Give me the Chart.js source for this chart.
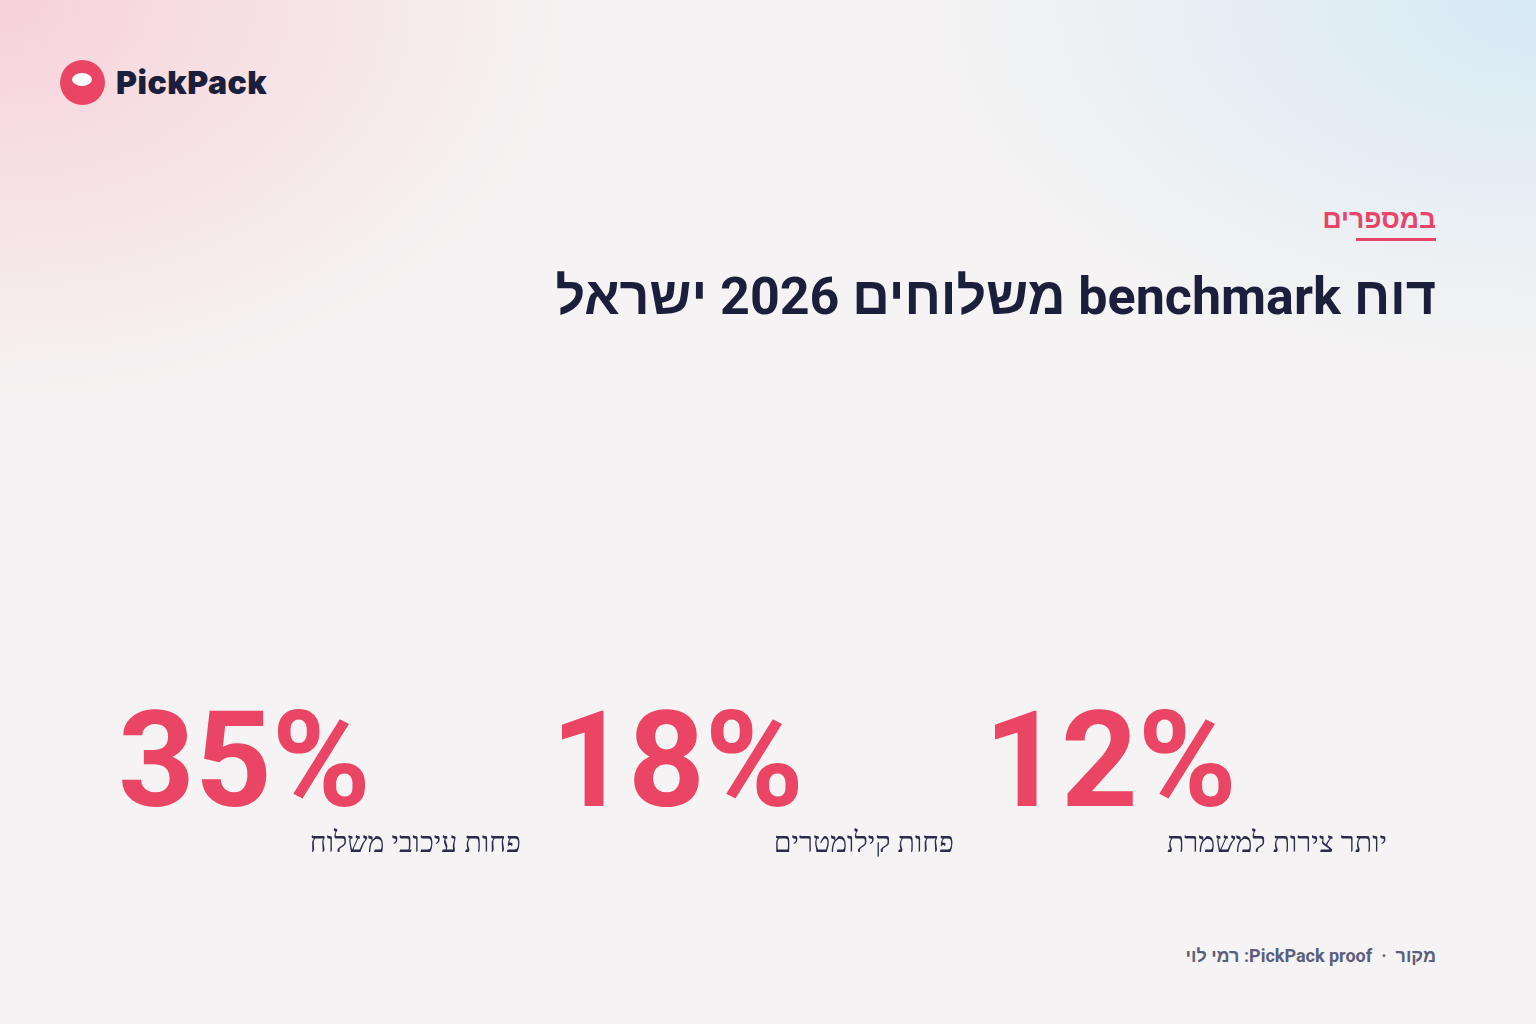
<!DOCTYPE html>
<html lang="he"><head><meta charset="utf-8">
<script src="https://cdn.jsdelivr.net/npm/chart.js@4"></script>
<style>
html,body{margin:0;padding:0;width:1536px;height:1024px;overflow:hidden;font-family:Roboto,"Noto Sans",sans-serif}
body{background:
 radial-gradient(ellipse 800px 560px at 0% 0%, rgba(247,204,213,.85), rgba(247,204,213,0) 72%),
 radial-gradient(ellipse 850px 520px at 100% 0%, rgba(212,233,245,.9), rgba(212,233,245,0) 72%),
 #f5f3f3;position:relative}
.logo{position:absolute;left:60px;top:60px;display:flex;align-items:center}
.dot{width:45px;height:45px;border-radius:50%;background:#ea4565;position:relative}
.dot:after{content:"";position:absolute;left:12px;top:13px;width:20px;height:13px;border-radius:50%;background:#fff}
.brand{margin-left:11px;font-family:Inter,Roboto,sans-serif;font-weight:900;font-size:32px;color:#1c1f3b;letter-spacing:.5px}
.kicker{position:absolute;right:100px;top:203px;direction:rtl;font-weight:700;font-size:26.5px;color:#e8446a}
.uline{position:absolute;left:1356px;width:80px;top:238px;height:3px;background:#e8446a}
.title{position:absolute;right:100px;top:266px;direction:rtl;font-weight:700;font-size:52px;color:#1c1f3b;white-space:nowrap}
.foot{position:absolute;right:100px;top:945px;direction:rtl;font-weight:700;font-size:18px;color:#5a5f7d}
#wrap{position:absolute;left:104px;top:660px;width:1299px;height:220px}
</style></head><body>
<div class="logo"><div class="dot"></div><div class="brand">PickPack</div></div>
<div class="kicker">במספרים</div><div class="uline"></div>
<div class="title">דוח benchmark משלוחים 2026 ישראל</div>
<div id="wrap"><canvas id="c"></canvas></div>
<div class="foot">מקור &nbsp;·&nbsp; PickPack proof: רמי לוי</div>
<script>
const categories = ["פחות עיכובי משלוח","פחות קילומטרים","יותר צירות למשמרת"];
const values = [35,18,12];
const tickLabels = values.map(v=>v+"%");
const kpiPlugin={id:'kpi',afterDraw(chart){
 const ctx=chart.ctx,x=chart.scales.x;
 const half=(x.getPixelForValue(1)-x.getPixelForValue(0))/2;
 ctx.save();
 values.forEach((v,i)=>{
  const cx=x.getPixelForValue(i);
  ctx.fillStyle='#ea4565';ctx.font='bold 134px Roboto';ctx.textAlign='left';ctx.textBaseline='alphabetic';
  ctx.direction='ltr';
  ctx.fillText(tickLabels[i],cx-half+14,146);
  ctx.fillStyle='#2a2d4a';ctx.font='500 28.5px Roboto';ctx.textAlign='right';ctx.direction='rtl';
  ctx.fillText(categories[i],cx+half-16,192);
 });
 ctx.restore();}};
new Chart(document.getElementById('c'),{type:'bar',
 data:{labels:categories,datasets:[{data:values,backgroundColor:'rgba(0,0,0,0)'}]},
 options:{responsive:true,maintainAspectRatio:false,animation:false,
  layout:{padding:0},
  plugins:{legend:{display:false},tooltip:{enabled:false}},
  scales:{x:{display:false},y:{display:false,min:0,max:100}}},
 plugins:[kpiPlugin]});
</script>
</body></html>
